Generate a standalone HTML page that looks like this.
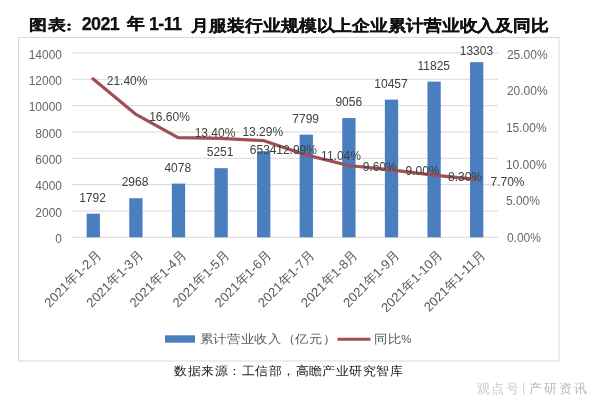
<!DOCTYPE html>
<html><head><meta charset="utf-8">
<style>
html,body{margin:0;padding:0;background:#fff;}
body{width:600px;height:408px;position:relative;overflow:hidden;font-family:"Liberation Sans",sans-serif;}
svg{position:absolute;left:0;top:0;filter:blur(0.35px);}
svg text{font-family:"Liberation Sans",sans-serif;white-space:pre;}
.ax{font-size:12px;fill:#666666;}
.dl{font-size:12px;fill:#404040;}
.xl{font-size:13px;fill:#595959;}
.tt{font-size:17px;font-weight:bold;fill:#111;stroke:#111;stroke-width:0.25px;}
.lg{font-size:13.4px;fill:#595959;}
.src{font-size:13px;fill:#1a1a1a;font-weight:500;}
.wm{font-size:13px;fill:#cacaca;}
.wm2{font-size:13px;fill:#b9b9b9;}
</style></head><body>
<svg width="600" height="408" viewBox="0 0 600 408">
<rect x="18.5" y="37.5" width="540.5" height="323.5" fill="none" stroke="#d9d9d9" stroke-width="1"/>
<line x1="72" x2="498" y1="237.30" y2="237.30" stroke="#d9d9d9" stroke-width="1"/>
<line x1="72" x2="498" y1="210.97" y2="210.97" stroke="#d9d9d9" stroke-width="1"/>
<line x1="72" x2="498" y1="184.64" y2="184.64" stroke="#d9d9d9" stroke-width="1"/>
<line x1="72" x2="498" y1="158.31" y2="158.31" stroke="#d9d9d9" stroke-width="1"/>
<line x1="72" x2="498" y1="131.98" y2="131.98" stroke="#d9d9d9" stroke-width="1"/>
<line x1="72" x2="498" y1="105.65" y2="105.65" stroke="#d9d9d9" stroke-width="1"/>
<line x1="72" x2="498" y1="79.32" y2="79.32" stroke="#d9d9d9" stroke-width="1"/>
<line x1="72" x2="498" y1="52.99" y2="52.99" stroke="#d9d9d9" stroke-width="1"/>
<rect x="86.65" y="213.71" width="13.3" height="23.59" fill="#4a7ebe"/>
<rect x="129.25" y="198.23" width="13.3" height="39.07" fill="#4a7ebe"/>
<rect x="171.85" y="183.61" width="13.3" height="53.69" fill="#4a7ebe"/>
<rect x="214.45" y="168.17" width="13.3" height="69.13" fill="#4a7ebe"/>
<rect x="257.05" y="151.28" width="13.3" height="86.02" fill="#4a7ebe"/>
<rect x="299.65" y="134.63" width="13.3" height="102.67" fill="#4a7ebe"/>
<rect x="342.25" y="118.08" width="13.3" height="119.22" fill="#4a7ebe"/>
<rect x="384.85" y="99.63" width="13.3" height="137.67" fill="#4a7ebe"/>
<rect x="427.45" y="81.62" width="13.3" height="155.68" fill="#4a7ebe"/>
<rect x="470.05" y="62.17" width="13.3" height="175.13" fill="#4a7ebe"/>
<polyline points="92.90,78.84 135.50,114.09 178.10,137.59 220.70,138.40 263.30,140.60 305.90,154.92 348.50,165.50 391.10,169.90 433.70,175.04 476.30,179.45" fill="none" stroke="#a04e57" stroke-width="3.2" stroke-linejoin="round" stroke-linecap="round"/>
<text id="la0" class="ax m" x="62.00" y="58.73" text-anchor="end">14000</text>
<text id="la1" class="ax m" x="62.00" y="85.04" text-anchor="end">12000</text>
<text id="la2" class="ax m" x="62.00" y="111.35" text-anchor="end">10000</text>
<text id="la3" class="ax m" x="62.00" y="137.66" text-anchor="end">8000</text>
<text id="la4" class="ax m" x="62.00" y="163.97" text-anchor="end">6000</text>
<text id="la5" class="ax m" x="62.00" y="190.28" text-anchor="end">4000</text>
<text id="la6" class="ax m" x="62.00" y="216.59" text-anchor="end">2000</text>
<text id="la7" class="ax m" x="62.00" y="242.90" text-anchor="end">0</text>
<text id="ra0" class="ax m" x="506.90" y="58.60" text-anchor="start">25.00%</text>
<text id="ra1" class="ax m" x="506.90" y="94.64" text-anchor="start">20.00%</text>
<text id="ra2" class="ax m" x="505.90" y="131.68" text-anchor="start">15.00%</text>
<text id="ra3" class="ax m" x="505.90" y="168.72" text-anchor="start">10.00%</text>
<text id="ra4" class="ax m" x="505.90" y="204.76" text-anchor="start">5.00%</text>
<text id="ra5" class="ax m" x="506.90" y="241.80" text-anchor="start">0.00%</text>
<text id="bl0" class="dl m" x="92.50" y="201.80" text-anchor="middle">1792</text>
<text id="bl1" class="dl m" x="135.05" y="186.35" text-anchor="middle">2968</text>
<text id="bl2" class="dl m" x="177.80" y="172.25" text-anchor="middle">4078</text>
<text id="bl3" class="dl m" x="220.10" y="156.25" text-anchor="middle">5251</text>
<text id="bl4" class="dl m" x="263.20" y="153.90" text-anchor="middle">6534</text>
<text id="bl5" class="dl m" x="305.65" y="123.10" text-anchor="middle">7799</text>
<text id="bl6" class="dl m" x="348.75" y="106.30" text-anchor="middle">9056</text>
<text id="bl7" class="dl m" x="391.00" y="88.10" text-anchor="middle">10457</text>
<text id="bl8" class="dl m" x="433.75" y="70.00" text-anchor="middle">11825</text>
<text id="bl9" class="dl m" x="476.40" y="54.50" text-anchor="middle">13303</text>
<text id="ll0" class="dl m" x="127.10" y="84.50" text-anchor="middle">21.40%</text>
<text id="ll1" class="dl m" x="169.50" y="120.50" text-anchor="middle">16.60%</text>
<text id="ll2" class="dl m" x="215.00" y="136.80" text-anchor="middle">13.40%</text>
<text id="ll3" class="dl m" x="262.75" y="136.30" text-anchor="middle">13.29%</text>
<text id="ll4" class="dl m" x="296.60" y="153.90" text-anchor="middle">12.99%</text>
<text id="ll5" class="dl m" x="341.00" y="160.30" text-anchor="middle">11.04%</text>
<text id="ll6" class="dl m" x="379.70" y="171.25" text-anchor="middle">9.60%</text>
<text id="ll7" class="dl m" x="422.50" y="175.30" text-anchor="middle">9.00%</text>
<text id="ll8" class="dl m" x="465.00" y="180.55" text-anchor="middle">8.30%</text>
<text id="ll9" class="dl m" x="507.50" y="185.50" text-anchor="middle">7.70%</text>
<text id="xl0" class="xl m" x="101.80" y="255.80" text-anchor="end" transform="rotate(-45 101.80 255.80)">2021年1-2月</text>
<text id="xl1" class="xl m" x="143.91" y="255.80" text-anchor="end" transform="rotate(-45 143.91 255.80)">2021年1-3月</text>
<text id="xl2" class="xl m" x="187.02" y="255.80" text-anchor="end" transform="rotate(-45 187.02 255.80)">2021年1-4月</text>
<text id="xl3" class="xl m" x="230.13" y="255.80" text-anchor="end" transform="rotate(-45 230.13 255.80)">2021年1-5月</text>
<text id="xl4" class="xl m" x="272.24" y="255.80" text-anchor="end" transform="rotate(-45 272.24 255.80)">2021年1-6月</text>
<text id="xl5" class="xl m" x="315.35" y="255.80" text-anchor="end" transform="rotate(-45 315.35 255.80)">2021年1-7月</text>
<text id="xl6" class="xl m" x="358.46" y="255.80" text-anchor="end" transform="rotate(-45 358.46 255.80)">2021年1-8月</text>
<text id="xl7" class="xl m" x="400.57" y="255.80" text-anchor="end" transform="rotate(-45 400.57 255.80)">2021年1-9月</text>
<text id="xl8" class="xl m" x="443.68" y="255.80" text-anchor="end" transform="rotate(-45 443.68 255.80)">2021年1-10月</text>
<text id="xl9" class="xl m" x="485.79" y="255.80" text-anchor="end" transform="rotate(-45 485.79 255.80)">2021年1-11月</text>
<rect x="165" y="335.3" width="30" height="7.4" fill="#4a7ebe"/>
<line x1="337.5" x2="370.5" y1="339.2" y2="339.2" stroke="#a04e57" stroke-width="3"/>
<text id="lg0" class="lg m" x="199.80" y="342.75" style="letter-spacing:0px" transform="translate(0 342.75) scale(1 0.9) translate(0 -342.75)">累计营业收入（亿元）</text>
<text id="lg1" class="lg m" x="374.00" y="342.90" style="letter-spacing:0px" transform="translate(0 342.90) scale(1 0.9) translate(0 -342.90)">同比<tspan style="font-size:11.5px">%</tspan></text>
<text id="src" class="src m" x="174.40" y="374.60" style="letter-spacing:0px" transform="translate(0 374.60) scale(1 0.93) translate(0 -374.60)">数据来源：工信部，高瞻产业研究智库</text>
<text id="wm" class="wm m" x="477.20" y="393.00" style="letter-spacing:1.2px">观点号</text>
<text id="wm2" class="wm2 m" x="528.50" y="393.00" style="letter-spacing:2.2px">产研资讯</text>
<text id="t0" class="tt m" x="29.40" y="30.00" style="letter-spacing:0px;font-size:18px" transform="translate(0 30.00) scale(1 0.84) translate(0 -30.00)">图表</text>
<text id="t1" class="tt m" x="81.80" y="30.10" style="letter-spacing:-0.7px;font-size:18px">2021</text>
<text id="t2" class="tt m" x="127.20" y="29.15" style="letter-spacing:0px;font-size:18px" transform="translate(0 29.15) scale(1 0.9) translate(0 -29.15)">年</text>
<text id="t3" class="tt m" x="149.00" y="30.10" style="letter-spacing:-0.65px;font-size:18px">1-11</text>
<text id="t4" class="tt m" x="191.50" y="30.75" style="letter-spacing:0px;font-size:17.9px" transform="translate(0 30.75) scale(1 0.9) translate(0 -30.75)">月服装行业规模以上企业累计营业收入及同比</text>
<line x1="523.6" x2="523.6" y1="383" y2="395" stroke="#d8d8d8" stroke-width="1.2"/>
<ellipse cx="69" cy="24.8" rx="1.75" ry="1.35" fill="#111"/>
<ellipse cx="69" cy="29.4" rx="1.75" ry="1.35" fill="#111"/>
</svg>
</body></html>
